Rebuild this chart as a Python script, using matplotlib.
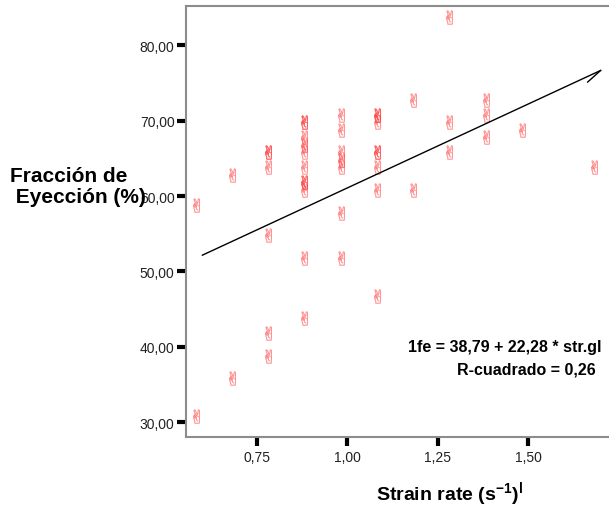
import numpy as np
import matplotlib
matplotlib.use('Agg')
import matplotlib.pyplot as plt
import matplotlib.transforms as mtransforms
from matplotlib.textpath import TextPath
from matplotlib.font_manager import FontProperties
from matplotlib.path import Path

# strain rate (s-1) and ejection fraction (%)
strain = [0.6, 0.6,
          0.7, 0.7,
          0.8, 0.8, 0.8, 0.8, 0.8, 0.8,
          0.9, 0.9, 0.9, 0.9, 0.9, 0.9, 0.9, 0.9, 0.9, 0.9, 0.9,
          1.0, 1.0, 1.0, 1.0, 1.0, 1.0, 1.0,
          1.1, 1.1, 1.1, 1.1, 1.1, 1.1, 1.1, 1.1,
          1.2, 1.2,
          1.3, 1.3, 1.3,
          1.4, 1.4, 1.4,
          1.5,
          1.7]
fe = [59, 31,
      63, 36,
      66, 66, 64, 55, 42, 39,
      70, 70, 68, 67, 66, 64, 62, 62, 61, 52, 44,
      71, 69, 66, 65, 64, 58, 52,
      71, 71, 70, 66, 66, 64, 61, 47,
      73, 61,
      84, 70, 66,
      73, 71, 68,
      69,
      64]

intercept = 38.79
slope = 22.28
r2 = 0.26

xticks = [0.75, 1.00, 1.25, 1.50]
yticks = [30, 40, 50, 60, 70, 80]

plt.rcParams['font.family'] = ['Liberation Sans', 'DejaVu Sans']
plt.rcParams['mathtext.fontset'] = 'custom'
plt.rcParams['mathtext.rm'] = 'Liberation Sans:bold'
plt.rcParams['mathtext.bf'] = 'Liberation Sans:bold'

fig = plt.figure(figsize=(6.09, 5.10), dpi=100)
ax = fig.add_axes([185.7 / 609, 1 - 438.3 / 510, 1 - 185.7 / 609, (438.3 - 6.7) / 510])

# victory-hand glyph used as marker
tp = TextPath((0, 0), '\u270c', prop=FontProperties(family='DejaVu Sans'))
v = tp.vertices.copy()
v -= (v.max(axis=0) + v.min(axis=0)) / 2
hand = Path(v, tp.codes)

shift = mtransforms.ScaledTranslation(-8.5 / 100, -1.5 / 100, fig.dpi_scale_trans)
ax.scatter(strain, fe, marker=hand, s=100, color='#ff3030', alpha=0.45,
           linewidths=0.3, edgecolors='#ff3030', transform=ax.transData + shift, zorder=2)

xs = np.array(strain)
xl = np.linspace(xs.min(), xs.max(), 50)
ax.plot(xl, intercept + slope * xl, color='black', lw=1.0, zorder=3)
ax.annotate('', xy=(xl[-1], intercept + slope * xl[-1]), xytext=(-9.5, -8.5),
            textcoords='offset points',
            arrowprops=dict(arrowstyle='-', color='black', lw=1.0, shrinkA=0, shrinkB=0))

ax.set_xlim(0.554, 1.723)
ax.set_ylim(28.0, 85.25)
ax.set_xticks(xticks)
ax.set_xticklabels([f'{t:.2f}'.replace('.', ',') for t in xticks])
ax.set_yticks(yticks)
ax.set_yticklabels([f'{t:.2f}'.replace('.', ',') for t in yticks])
ax.tick_params(axis='both', direction='out', length=6.5, width=3, color='black',
               labelsize=10, labelcolor='#222222')
ax.tick_params(axis='y', pad=1.5)
ax.tick_params(axis='x', pad=3)

for side in ['left', 'top', 'bottom']:
    ax.spines[side].set_color('#8c8c8c')
    ax.spines[side].set_linewidth(1.5)
ax.spines['right'].set_visible(False)

ax.text(0.983, 0.2007, '1fe = 38,79 + 22,28 * str.gl', transform=ax.transAxes,
        ha='right', va='baseline', fontsize=11.5, fontweight='bold')
ax.text(0.969, 0.1467, 'R-cuadrado = ' + f'{r2:.2f}'.replace('.', ','),
        transform=ax.transAxes, ha='right', va='baseline', fontsize=11.5, fontweight='bold')

# the reference lets this label run into the 60,00 tick label
fig.text(10 / 609, 1 - 187 / 510, 'Fracción de\n Eyección (%)', ha='left', va='center',
         multialignment='left', fontsize=15, fontweight='bold', linespacing=1.15)
fig.text(450 / 609, 1 - 501 / 510, r'Strain rate (s$^{-1}$)$^{\mathregular{l}}$',
         ha='center', va='baseline', fontsize=14, fontweight='bold')

fig.savefig('out.png', dpi=100)
